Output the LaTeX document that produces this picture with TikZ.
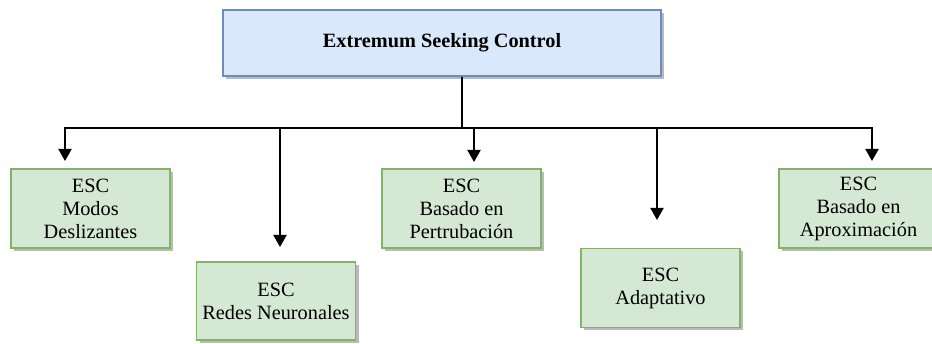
\documentclass[tikz,border=0pt]{standalone}
\usepackage{fontspec}
\setmainfont{Liberation Serif}
\usetikzlibrary{arrows.meta,shadows,calc}
\definecolor{topfill}{HTML}{DAE8FC}
\definecolor{topline}{HTML}{6C8EBF}
\definecolor{leaffill}{HTML}{D5E8D4}
\definecolor{leafline}{HTML}{82B366}
\tikzset{
  boxshadow/.style={drop shadow={shadow xshift=3pt,shadow yshift=-3pt,fill=black!45,opacity=0.6}},
  rootbox/.style={draw=topline,fill=topfill,line width=1.3pt,boxshadow,
    minimum width=438pt,minimum height=66pt,inner sep=0pt,
    font=\fontsize{20.3}{23}\selectfont\bfseries},
  leafbox/.style={draw=leafline,fill=leaffill,line width=1.3pt,boxshadow,
    minimum width=159pt,minimum height=79pt,inner sep=0pt,align=center,
    font=\fontsize{20.3}{23}\selectfont},
  branch/.style={line width=2pt,line join=miter,
    -{Triangle[width=13pt,length=12pt]}}
}
\begin{document}
\begin{tikzpicture}[x=1pt,y=-1pt]
  \useasboundingbox (0,0) rectangle (932,344);
  \fill[white] (0,0) rectangle (932,344);

  % root and the five variants
  \node[rootbox] (root) at (442,43) {Extremum Seeking Control};
  \node[leafbox] (sm)   at (90.5,208.5) {ESC\\Modos\\Deslizantes};
  \node[leafbox,minimum height=78pt] (nn) at (276,301) {ESC\\Redes Neuronales};
  \node[leafbox] (pert) at (461.5,208.5) {ESC\\Basado en\\Pertrubación};
  \node[leafbox] (ad)   at (660.5,288) {ESC\\Adaptativo};
  \node[leafbox] (apx)  at (858.5,208.5) {ESC\\Basado en\\Aproximación};

  % stem leaving the root, junction on the bus, and arrow tips above each variant
  \coordinate (stem) at ($(root.south)+(20,0)$);
  \coordinate (bus) at (stem |- 0,128);
  \coordinate (tsm)   at (65,161);
  \coordinate (tnn)   at (280,247);
  \coordinate (tpert) at (474,162);
  \coordinate (tad)   at (657,220);
  \coordinate (tapx)  at (872,161);

  \draw[branch] (stem) -- (bus) -| (tsm);
  \draw[branch] (stem) -- (bus) -| (tnn);
  \draw[branch] (stem) -- (bus) -| (tpert);
  \draw[branch] (stem) -- (bus) -| (tad);
  \draw[branch] (stem) -- (bus) -| (tapx);
\end{tikzpicture}
\end{document}
